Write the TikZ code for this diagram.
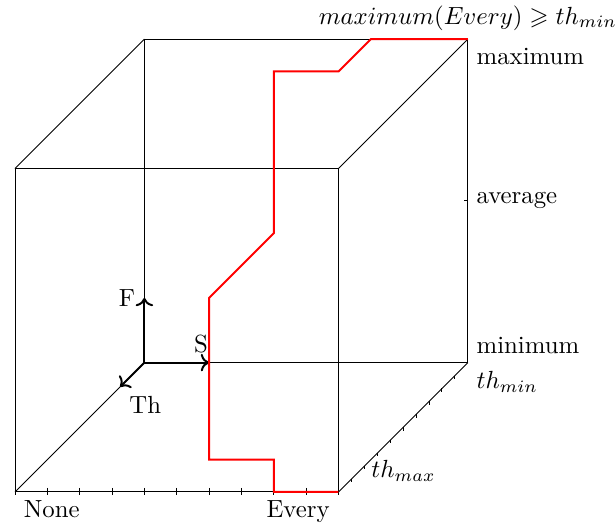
\documentclass[tikz,border=0pt]{standalone}
\usepackage{amsmath}
\usepackage{amssymb}
\usepackage{tikz}
\usetikzlibrary{arrows.meta, calc, positioning}

\begin{document}
\begin{tikzpicture}[x=0.4585cm, y=0.4585cm, line width=0.4pt]
        \useasboundingbox (-0.464,-1.02) rectangle (18.58,15.21);

        % cube
        \draw (0,0) rectangle (10,10);
        \draw (4,4) rectangle (14,14);
        \draw (0,0) -- (4,4);
        \draw (10,0) -- (14,4);
        \draw (0,10) -- (4,14);
        \draw (10,10) -- (14,14);

        % ticks
        \foreach \i in {0,...,10}
            \draw (\i,0.13) -- (\i,-0.1);
        \foreach \i in {1,...,9}
            \draw (10+0.4*\i,0.4*\i) -- ++(0,-0.1);
        \draw (14,9) -- ++(-0.12,0);

        % axes
        \coordinate (O) at (4,4);
        \draw[thick,->] (O) -- (4,6) node[left] (F) {F};
        \draw[thick,->] (O) -- (6,4) node[above left=0pt and -3.3pt] (S) {S};
        \draw[thick,->] (O) -- (3.25,3.25) node[below right] (Th) {Th};

        % red path
        \draw[red, line width=0.8pt] (10,0) -- (8,0) -- (8,1) -- (6,1) -- (6,6)
              -- (8,8) -- (8,13) -- (10,13) -- (11,14) -- (14,14);

        \node[anchor=north west] (none) at (0,0) {None};
        \node[anchor=north east] (every) at (10,0) {Every};
        \node[anchor=north west] (thmax) at (10.75,1.25) {$th_{max}$};
        \node[anchor=south west] (minimum) at (14,4) {minimum};
        \node[anchor=north west] (thmin) at (14,4) {$th_{min}$};
        \node[anchor=west] (average) at (14,9) {average};
        \node[anchor=north west] (maximum) at (14,14) {maximum};
        \node[above] (cond) at (14,14) {$maximum(Every) \geqslant th_{min}$};
    \end{tikzpicture}
\end{document}
